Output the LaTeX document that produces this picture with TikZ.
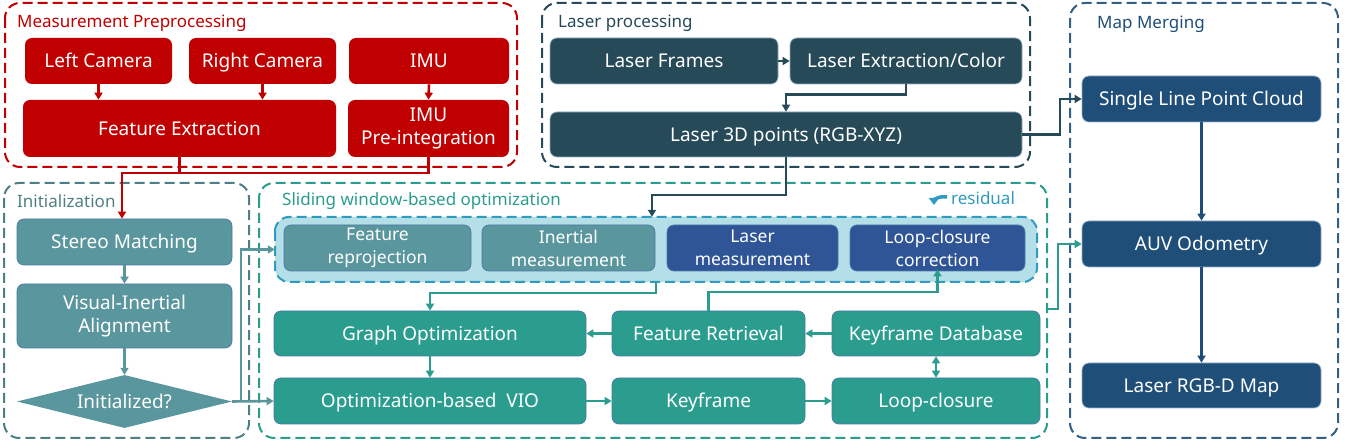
\documentclass[tikz,border=0pt]{standalone}
\usepackage{fontspec}
\setmainfont{Noto Sans}
\usetikzlibrary{shapes.geometric,arrows.meta}
\definecolor{cred}{HTML}{C00000}
\definecolor{cdark}{HTML}{274A58}
\definecolor{cmap}{HTML}{1F4E79}
\definecolor{cinit}{HTML}{5A969D}
\definecolor{cinitb}{HTML}{4F7F86}
\definecolor{cteal}{HTML}{2A9D8F}
\definecolor{clas}{HTML}{2F5597}
\definecolor{cresf}{HTML}{B5DFE8}
\definecolor{cresb}{HTML}{2E9BBF}
\definecolor{cedge}{HTML}{4A78A8}
\tikzset{
  grp/.style={rounded corners=15pt, line width=2pt, dash pattern=on 10pt off 5pt},
  bx/.style={rounded corners=7pt, text=white, align=center, inner sep=0pt,
    font=\fontsize{19}{23}\selectfont, line width=0.7pt},
  one/.style={text height=17pt, text depth=3pt},
  smallbx/.style={bx, font=\fontsize{17.5}{23}\selectfont},
  ttl/.style={anchor=west, font=\fontsize{17}{19}\selectfont, inner sep=0pt},
  con/.style={line width=2.6pt},
  arr/.style={con, -{Triangle[length=7pt,width=8pt]}},
  darr/.style={con, {Triangle[length=7pt,width=8pt]}-{Triangle[length=7pt,width=8pt]}},
}
\begin{document}
\begin{tikzpicture}[x=1pt,y=-1pt]
\useasboundingbox (0,0) rectangle (1345,443);
% group boxes
\draw[grp, cred] (5,3) rectangle (517,167);
\draw[grp, cdark] (542,3) rectangle (1030,167);
\draw[grp, cmap!90!white] (1070,3) rectangle (1338,438);
\draw[grp, cinitb] (4,183) rectangle (249,438);
\draw[grp, cteal] (259,183) rectangle (1047,438);
\node[ttl, text=cred] (t1) at (17,23) {Measurement Preprocessing};
\node[ttl, text=cdark] (t2) at (558,23) {Laser processing};
\node[ttl, text=cmap] (t3) at (1097,24) {Map Merging};
\node[ttl, text=cinitb] (t4) at (17,201) {Initialization};
\node[ttl, text=cteal] (t5) at (282,201) {Sliding window-based optimization};
% measurement
\node[bx, one, fill=cred, minimum width=147, minimum height=46] (lc) at (98.5,61) {Left Camera};
\node[bx, one, fill=cred, minimum width=147, minimum height=46] (rc) at (262.5,61) {Right Camera};
\node[bx, one, fill=cred, minimum width=160, minimum height=46] (imu) at (429,61) {IMU};
\node[bx, one, fill=cred, minimum width=313, minimum height=57] (fe) at (179.5,128.5) {Feature Extraction};
\node[bx, fill=cred, minimum width=161, minimum height=57] (imup) at (428.5,128.5) {IMU\\Pre-integration};
% laser
\node[bx, one, fill=cdark, draw=cedge!60!white, minimum width=228, minimum height=46] (lf) at (664,61) {Laser Frames};
\node[bx, one, fill=cdark, draw=cedge!60!white, minimum width=232, minimum height=46] (lec) at (906,61) {Laser Extraction/Color};
\node[bx, one, fill=cdark, draw=cedge!60!white, minimum width=472, minimum height=45] (l3d) at (786,134.5) {Laser 3D points (RGB-XYZ)};
% map
\node[bx, one, fill=cmap, draw=cedge!60!white, minimum width=239, minimum height=46] (slpc) at (1201.5,99) {Single Line Point Cloud};
\node[bx, one, fill=cmap, draw=cedge!60!white, minimum width=239, minimum height=46] (auv) at (1201.5,244) {AUV Odometry};
\node[bx, one, fill=cmap, draw=cedge!60!white, minimum width=239, minimum height=45] (rgbd) at (1201.5,385.5) {Laser RGB-D Map};
% init
\node[bx, one, fill=cinit, draw=cedge, minimum width=215, minimum height=46] (sm) at (124.5,242) {Stereo Matching};
\node[bx, fill=cinit, draw=cedge, minimum width=215, minimum height=64] (via) at (124.5,316) {Visual-Inertial\\Alignment};
\node[diamond, shape aspect=4, inner sep=0pt, fill=cinit, text=white, font=\fontsize{19}{23}\selectfont,
  text height=17pt, text depth=3pt, minimum width=215, minimum height=53] (dia) at (124.5,401.5) {Initialized?};
% residual box
\draw[rounded corners=14pt, fill=cresf, draw=cresb, line width=2pt, dash pattern=on 10pt off 5pt]
  (275,217) rectangle (1037,282);
\node[inner sep=0pt, minimum width=762, minimum height=65] (res) at (656,249.5) {};
\node[smallbx, fill=cinit, draw=cedge, minimum width=187, minimum height=46] (frp) at (377.5,248) {Feature\\reprojection};
\node[smallbx, fill=cinit, draw=cedge, minimum width=173, minimum height=46] (inm) at (568.5,248) {Inertial\\measurement};
\node[smallbx, fill=clas, draw=cedge, minimum width=171, minimum height=46] (lm) at (752.5,248) {Laser\\measurement};
\node[smallbx, fill=clas, draw=cedge, minimum width=175, minimum height=46] (lcc) at (937.5,248) {Loop-closure\\correction};
\node[anchor=west, inner sep=0pt, text=cresb, font=\fontsize{17}{19}\selectfont] (rl) at (951,198) {residual};
\draw[line width=3.5pt, cresb, -{Triangle[length=7pt,width=10pt]}] (947,197) -- (941,197) to[out=180,in=90] (934,205);
% sliding
\node[bx, one, fill=cteal, draw=cedge, minimum width=312, minimum height=45] (go) at (430,333.5) {Graph Optimization};
\node[bx, one, fill=cteal, draw=cedge, minimum width=312, minimum height=46] (vio) at (430,401) {Optimization-based\ \ VIO};
\node[bx, one, fill=cteal, draw=cedge, minimum width=193, minimum height=45] (fr) at (708.5,333.5) {Feature Retrieval};
\node[bx, one, fill=cteal, draw=cedge, minimum width=208, minimum height=45] (kd) at (936,333.5) {Keyframe Database};
\node[bx, one, fill=cteal, draw=cedge, minimum width=193, minimum height=46] (kf) at (708.5,401) {Keyframe};
\node[bx, one, fill=cteal, draw=cedge, minimum width=208, minimum height=46] (lcl) at (936,401) {Loop-closure};
% connectors measurement
\draw[arr, cred] (lc.south) -- (lc.south |- fe.north);
\draw[arr, cred] (rc.south) -- (rc.south |- fe.north);
\draw[arr, cred] (imu.south) -- (imup.north);
\coordinate (j1) at (122,173);
\draw[con, cred] (fe.south) -- (fe.south |- j1);
\draw[arr, cred] (imup.south) |- (j1) -- (j1 |- sm.north);
% laser
\draw[arr, cdark] (lf.east) -- (lec.west);
\draw[arr, cdark] (lec.south) -- ++(0,10) -| (l3d.north);
\coordinate (j2) at (652,195);
\draw[arr, cdark] (l3d.south) |- (j2) -- (j2 |- res.north);
\coordinate (j3) at (1060,99);
\draw[arr, cdark] (l3d.east) -| (j3) -- (slpc.west);
% map
\draw[arr, cmap] (slpc.south) -- (auv.north);
\draw[arr, cmap] (auv.south) -- (rgbd.north);
\coordinate (j4) at (1047,309);
\coordinate (j5) at (1058,244);
\draw[arr, cteal] (j4) -| (j5) -- (auv.west);
% init
\draw[arr, cinit] (sm.south) -- (via.north);
\draw[arr, cinit] (via.south) -- (dia.north);
\draw[arr, cinit] (dia.east) -- (vio.west);
\coordinate (j6) at (241,401.5);
\draw[arr, cinit] (j6) |- (res.west);
% sliding
\coordinate (j7) at (430,293);
\draw[arr, cteal] (res.south) |- (j7) -- (go.north);
\draw[arr, cteal] (go.south) -- (vio.north);
\draw[arr, cteal] (fr.west) -- (go.east);
\draw[arr, cteal] (kd.west) -- (fr.east);
\draw[arr, cteal] (vio.east) -- (kf.west);
\draw[arr, cteal] (kf.east) -- (lcl.west);
\draw[darr, cteal] (kd.south) -- (lcl.north);
\coordinate (j8) at (708.5,292);
\draw[arr, cteal, shorten >=-2pt] (fr.north) -- (j8) -| (lcc.south);
\end{tikzpicture}
\end{document}
